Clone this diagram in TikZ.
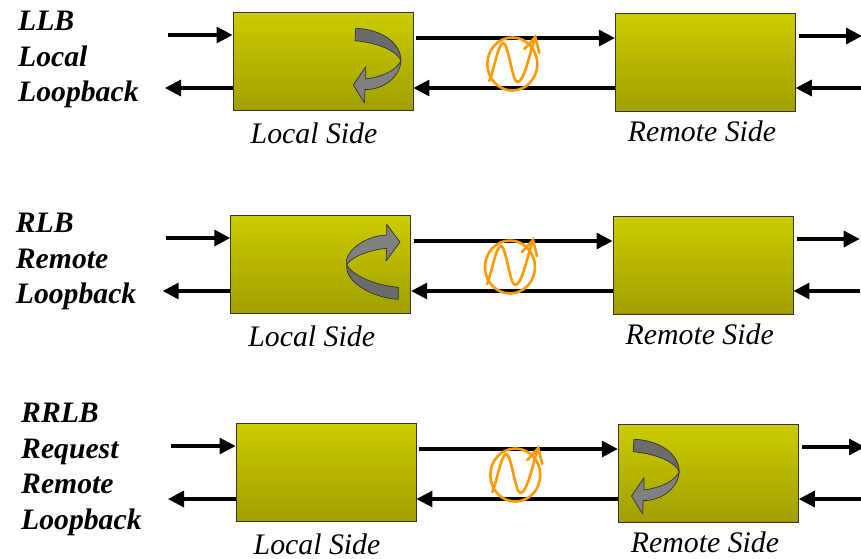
\documentclass[tikz,border=0pt]{standalone}
\usepackage{fontspec}
\setmainfont{Liberation Serif}
\usetikzlibrary{arrows.meta}
\definecolor{boxtop}{HTML}{CCCC00}
\definecolor{boxmid}{HTML}{C2C200}
\definecolor{boxbot}{HTML}{9F9F00}
\definecolor{wave}{HTML}{FF9900}
\tikzset{
    fleche/.style={-{Triangle[length=16pt, width=16pt]}, line width=3.2pt, black},
    boitier/.style={draw=black!80!olive, line width=0.9pt, minimum width=180pt, minimum height=98pt, inner sep=0pt,
        top color=boxtop, middle color=boxmid, bottom color=boxbot},
    cote/.style={inner sep=0pt, font=\fontsize{29.8}{30}\selectfont\itshape},
    titre/.style={anchor=north west, inner sep=0pt, align=left, font=\fontsize{29.7}{35.5}\selectfont\bfseries\itshape},
    ruban/.style={draw=black!80, line width=0.7pt, line join=round},
    sinus/.pic={
        \draw[wave, line width=2.6pt] (0,0) ellipse (25 and 26.5);
        \draw[wave, line width=2.6pt, line join=round, line cap=round] (-23,17) .. controls (-18,5) and (-14,-21) .. (-9,-21)
            .. controls (-4,-21) and (0,18) .. (5,18) .. controls (12,18) and (17,-10) .. (23,-27);
        \draw[wave, line width=2.6pt, line cap=round] (12,-15) -- (23,-27) -- (27,-11);
    },
    repli bas/.pic={
        \fill[ruban, fill=black!58] (355.7,28.3) .. controls (380,29) and (401,42) .. (401,61)
            .. controls (398,52) and (380,43) .. (355,40.7) -- cycle;
        \fill[ruban, fill=black!50] (401,61) .. controls (400.5,75) and (385,90) .. (365,89.5) -- (364.5,103) -- (353.3,85)
            -- (365.7,66.7) -- (365.7,79) .. controls (380,77) and (395,72) .. (401,61) -- cycle;
    },
    repli haut/.pic={
        \fill[ruban, fill=black!50] (389,32) -- (389,21.3) -- (402.3,39) -- (388.3,58) -- (389,45.3)
            .. controls (370,47) and (352,55) .. (349,62) .. controls (346,50) and (365,33) .. (389,32) -- cycle;
        \fill[ruban, fill=black!58] (349,62) .. controls (355,72) and (375,82) .. (400.6,84.3) -- (400.6,96.3)
            .. controls (375,95) and (350,80) .. (349,65) -- cycle;
    },
}
\begin{document}
\begin{tikzpicture}[x=1pt, y=-1pt]
\clip (0,0) rectangle (861,558);
\foreach \n/\dx/\dy/\ytitre/\titre/\plan in {
    1/0/0/11/{LLB\\Local\\Loopback}/0,
    2/-2.3/203/10/{RLB\\Remote\\Loopback}/1,
    3/3/411/-8/{RRLB\\Request\\Remote\\Loopback}/2} {
\begin{scope}[shift={(\dx,\dy)}]
\node[boitier] (local\n) at (323,61.5) {};
\node[boitier] (remote\n) at (705.3,62) {};
\node[cote] (lside\n) at (314,133.5) {Local Side};
\node[cote] (rside\n) at (702,131.5) {Remote Side};
\node[titre] (nom\n) at (18,\ytitre) {\titre};
% free ends of the stubs
\coordinate (entree\n) at (168,35);
\coordinate (retour\n) at (165,88);
\coordinate (sortie\n) at (862,36);
\coordinate (arrivee\n) at (862,88);
\coordinate (ligne\n) at (416,38);
\draw[fleche] (entree\n) -- (entree\n -| local\n.west);
\draw[fleche] (local\n.west |- retour\n) -- (retour\n);
\draw[fleche] (ligne\n) -- (ligne\n -| remote\n.west);
\draw[fleche] (remote\n.west |- retour\n) -- (local\n.east |- retour\n);
\draw[fleche, shorten <=3.5pt] (remote\n.east |- sortie\n) -- (sortie\n);
\draw[fleche] (arrivee\n) -- (arrivee\n -| remote\n.east);
\pic at (512.3,64) {sinus};
\ifnum\plan=0 \pic at (0,0) {repli bas}; \fi
\ifnum\plan=1 \pic at (0,0) {repli haut}; \fi
\ifnum\plan=2 \pic at (275.2,0) {repli bas}; \fi
\end{scope}
}
\end{tikzpicture}
\end{document}
